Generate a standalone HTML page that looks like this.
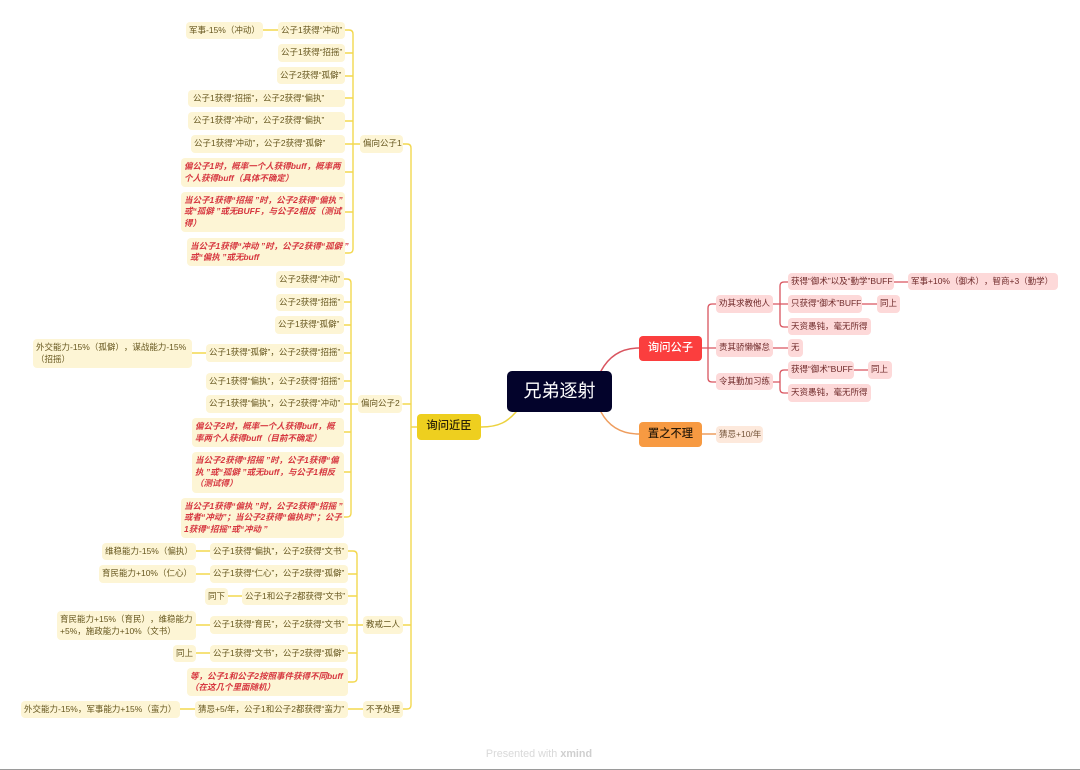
<!DOCTYPE html>
<html><head><meta charset="utf-8">
<style>
html,body{margin:0;padding:0;background:#fff;}
#c{position:relative;width:1080px;height:770px;overflow:hidden;background:#fff;font-family:"Liberation Sans","Noto Sans CJK SC",sans-serif;text-spacing-trim:space-all;}
svg{position:absolute;left:0;top:0;}
.n{position:absolute;box-sizing:border-box;border-radius:4px;display:flex;align-items:center;white-space:nowrap;font-size:8.5px;line-height:11.5px;padding:0 5px;}
.y{background:#fdf5d5;color:#66571f;}
.r{background:#fdf5d5;color:#d6363f;font-style:italic;font-weight:bold;}
.p{background:#fdd9d9;color:#6f2a2a;}
.o{background:#fde9dc;color:#75553a;}
.m{justify-content:center;padding:0;font-size:11.3px;font-weight:500;}
</style></head><body><div id="c">
<svg width="1080" height="770" fill="none" stroke-linecap="round">
<g stroke="#f3d84f" stroke-width="1.4">
<path d="M481 427C500 427 508 421 516 412" stroke="#ecd23f" stroke-width="1.5"/>
<path d="M417 427H411M403 144H407Q411 144 411 148V705Q411 709 407 709H403M403 404H411M403 625H411"/>
<path d="M360 144H345M345 30H349Q353 30 353 34V249Q353 253 349 253H345M345 53H353M345 76H353M345 98H353M345 121H353M345 172H353M345 212H353"/>
<path d="M358 404H344M344 279H347Q351 279 351 283V513Q351 517 347 517H344M344 302H351M344 325H351M344 353H351M344 381H351M344 432H351M344 472H351"/>
<path d="M363 625H348M348 551H353Q357 551 357 555V678Q357 682 353 682H348M348 574H357M348 596H357M348 653H357"/>
<path d="M363 709H348M195 709H180M210 551H196M210 574H196M242 596H228M210 625H196M210 653H196M206 353H192M278 30H263"/>
</g>
<g stroke="#d9545f" stroke-width="1.3">
<path d="M639 348C620 348 608 358 601 371" stroke-width="1.5"/>
<path d="M702 348H716M716 304H712Q708 304 708 308V378Q708 382 712 382H716"/>
<path d="M773 304H788M788 282H784Q780 282 780 286V323Q780 327 784 327H788M894 282H908M862 304H877M773 348H788M773 382H780M788 370H784Q780 370 780 374V389Q780 393 784 393H788M854 370H868"/>
</g>
<g stroke="#ee9d5e" stroke-width="1.4">
<path d="M639 434C620 434 608 425 601 412"/>
<path d="M702 434H716"/>
</g>
</svg>

<div class="n" style="left:507px;top:371px;width:105px;height:41px;background:#03032b;color:#fff;font-size:18px;justify-content:center;padding:0;border-radius:5px;">兄弟逐射</div>
<div class="n m" style="left:417px;top:414px;width:64px;height:26px;background:#eecf1f;color:#2a2208;">询问近臣</div>
<div class="n m" style="left:639px;top:336px;width:63px;height:25px;background:#fb3e3e;color:#fff;">询问公子</div>
<div class="n m" style="left:639px;top:422px;width:63px;height:25px;background:#f79a42;color:#2a1a08;">置之不理</div>

<div class="n y" style="left:360px;top:135px;width:43px;height:18px;padding:0 3px;">偏向公子1</div>
<div class="n y" style="left:358px;top:395px;width:44px;height:18px;padding:0 3px;">偏向公子2</div>
<div class="n y" style="left:363px;top:616px;width:40px;height:18px;padding:0 3px;">教戒二人</div>
<div class="n y" style="left:363px;top:701px;width:40px;height:17px;padding:0 3px;">不予处理</div>

<div class="n y" style="left:186px;top:22px;width:77px;height:17px;padding:0 3px;">军事-15%（冲动）</div>
<div class="n y" style="left:278px;top:22px;width:67px;height:17px;padding:0 3px;">公子1获得“冲动”</div>
<div class="n y" style="left:278px;top:44px;width:67px;height:18px;padding:0 3px;">公子1获得“招摇”</div>
<div class="n y" style="left:277px;top:67px;width:68px;height:17px;padding:0 3px;">公子2获得“孤僻”</div>
<div class="n y" style="left:188px;top:90px;width:157px;height:17px;">公子1获得“招摇”，公子2获得“偏执”</div>
<div class="n y" style="left:188px;top:112px;width:157px;height:18px;">公子1获得“冲动”，公子2获得“偏执”</div>
<div class="n y" style="left:191px;top:135px;width:154px;height:18px;padding:0 3px;">公子1获得“冲动”，公子2获得“孤僻”</div>
<div class="n r" style="left:181px;top:158px;width:164px;height:29px;padding:0 3px;">偏公子1时，概率一个人获得buff，概率两<br>个人获得buff（具体不确定）</div>
<div class="n r" style="left:181px;top:192px;width:164px;height:40px;padding:0 3px;">当公子1获得“招摇 ”时，公子2获得“偏执 ”<br>或“孤僻 ”或无BUFF，与公子2相反（测试<br>得）</div>
<div class="n r" style="left:187px;top:238px;width:158px;height:28px;padding:0 3px;">当公子1获得“冲动 ”时，公子2获得“孤僻 ”<br>或“偏执 ”或无buff</div>

<div class="n y" style="left:276px;top:271px;width:68px;height:17px;padding:0 3px;">公子2获得“冲动”</div>
<div class="n y" style="left:276px;top:294px;width:68px;height:17px;padding:0 3px;">公子2获得“招摇”</div>
<div class="n y" style="left:275px;top:316px;width:69px;height:18px;padding:0 3px;">公子1获得“孤僻”</div>
<div class="n y" style="left:206px;top:344px;width:138px;height:18px;padding:0 3px;">公子1获得“孤僻”，公子2获得“招摇”</div>
<div class="n y" style="left:33px;top:339px;width:159px;height:29px;padding:0 3px;">外交能力-15%（孤僻），谋战能力-15%<br>（招摇）</div>
<div class="n y" style="left:206px;top:373px;width:138px;height:17px;padding:0 3px;">公子1获得“偏执”，公子2获得“招摇”</div>
<div class="n y" style="left:206px;top:395px;width:138px;height:18px;padding:0 3px;">公子1获得“偏执”，公子2获得“冲动”</div>
<div class="n r" style="left:192px;top:418px;width:152px;height:29px;padding:0 3px;">偏公子2时，概率一个人获得buff，概<br>率两个人获得buff（目前不确定）</div>
<div class="n r" style="left:192px;top:452px;width:152px;height:41px;padding:0 3px;">当公子2获得“招摇 ”时，公子1获得“偏<br>执 ”或“孤僻 ”或无buff，与公子1相反<br>（测试得）</div>
<div class="n r" style="left:181px;top:498px;width:163px;height:40px;padding:0 3px;">当公子1获得“偏执 ”时，公子2获得“招摇 ”<br>或者“冲动”；当公子2获得“偏执时”；公子<br>1获得“招摇”或“冲动 ”</div>

<div class="n y" style="left:102px;top:543px;width:94px;height:17px;padding:0 3px;">维稳能力-15%（偏执）</div>
<div class="n y" style="left:210px;top:543px;width:138px;height:17px;padding:0 3px;">公子1获得“偏执”，公子2获得“文书”</div>
<div class="n y" style="left:99px;top:565px;width:97px;height:18px;padding:0 3px;">育民能力+10%（仁心）</div>
<div class="n y" style="left:210px;top:565px;width:138px;height:18px;padding:0 3px;">公子1获得“仁心”，公子2获得“孤僻”</div>
<div class="n y" style="left:205px;top:588px;width:23px;height:17px;padding:0 3px;">同下</div>
<div class="n y" style="left:242px;top:588px;width:106px;height:17px;padding:0 3px;">公子1和公子2都获得“文书”</div>
<div class="n y" style="left:57px;top:611px;width:139px;height:29px;padding:0 3px;">育民能力+15%（育民），维稳能力<br>+5%，施政能力+10%（文书）</div>
<div class="n y" style="left:210px;top:616px;width:138px;height:18px;padding:0 3px;">公子1获得“育民”，公子2获得“文书”</div>
<div class="n y" style="left:173px;top:645px;width:23px;height:17px;padding:0 3px;">同上</div>
<div class="n y" style="left:210px;top:645px;width:138px;height:17px;padding:0 3px;">公子1获得“文书”，公子2获得“孤僻”</div>
<div class="n r" style="left:187px;top:668px;width:161px;height:28px;padding:0 3px;">等，公子1和公子2按照事件获得不同buff<br>（在这几个里面随机）</div>
<div class="n y" style="left:21px;top:701px;width:159px;height:17px;padding:0 3px;">外交能力-15%，军事能力+15%（蛮力）</div>
<div class="n y" style="left:195px;top:701px;width:153px;height:17px;padding:0 3px;">猜忌+5/年，公子1和公子2都获得“蛮力”</div>

<div class="n p" style="left:716px;top:295px;width:57px;height:18px;padding:0 3px;">劝其求教他人</div>
<div class="n p" style="left:716px;top:339px;width:57px;height:18px;padding:0 3px;">责其骄懒懈怠</div>
<div class="n p" style="left:716px;top:373px;width:57px;height:17px;padding:0 3px;">令其勤加习练</div>
<div class="n p" style="left:788px;top:273px;width:106px;height:17px;padding:0 3px;">获得“御术”以及“勤学”BUFF</div>
<div class="n p" style="left:908px;top:273px;width:150px;height:17px;padding:0 3px;">军事+10%（御术），智商+3（勤学）</div>
<div class="n p" style="left:788px;top:295px;width:74px;height:18px;padding:0 3px;">只获得“御术”BUFF</div>
<div class="n p" style="left:877px;top:295px;width:23px;height:18px;padding:0 3px;">同上</div>
<div class="n p" style="left:788px;top:318px;width:83px;height:17px;padding:0 3px;">天资愚钝，毫无所得</div>
<div class="n p" style="left:788px;top:339px;width:15px;height:18px;padding:0 3px;">无</div>
<div class="n p" style="left:788px;top:361px;width:66px;height:18px;padding:0 3px;">获得“御术”BUFF</div>
<div class="n p" style="left:868px;top:361px;width:24px;height:18px;padding:0 3px;">同上</div>
<div class="n p" style="left:788px;top:384px;width:83px;height:18px;padding:0 3px;">天资愚钝，毫无所得</div>
<div class="n o" style="left:716px;top:426px;width:47px;height:17px;padding:0 3px;">猜忌+10/年</div>

<div style="position:absolute;left:439px;width:200px;top:748px;text-align:center;font-size:10.8px;line-height:13px;color:#d9d9d9;">Presented with <b style="color:#cfcfcf;">xmind</b></div>
<div style="position:absolute;left:0;top:769px;width:1080px;height:1px;background:#9a9a9a;"></div>
</div></body></html>
